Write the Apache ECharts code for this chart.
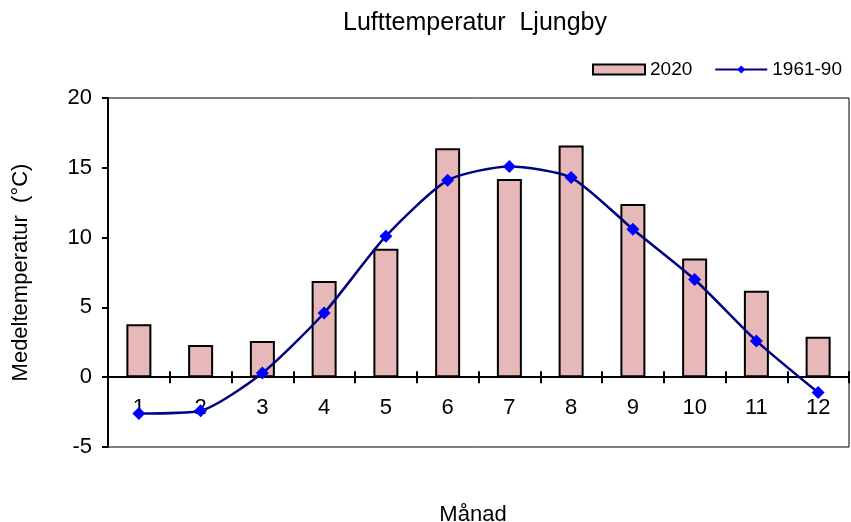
<!DOCTYPE html>
<html>
<head>
<meta charset="utf-8">
<script src="https://cdn.jsdelivr.net/npm/echarts@6/dist/echarts.min.js"></script>
<style>
  body { margin: 0; background: #fff; }
  #chart { width: 851px; height: 522px; }
</style>
</head>
<body>
<div id="chart"></div>
<script>
var months = ["1", "2", "3", "4", "5", "6", "7", "8", "9", "10", "11", "12"];
var temp2020 = [3.8, 2.3, 2.6, 6.9, 9.2, 16.4, 14.2, 16.6, 12.4, 8.5, 6.2, 2.9];
var normal6190 = [-2.6, -2.4, 0.3, 4.6, 10.1, 14.1, 15.1, 14.3, 10.6, 7.0, 2.6, -1.1];
var yMin = -5, yMax = 20, yStep = 5;

var font = "Liberation Sans, Arial, sans-serif";
var chart = echarts.init(document.getElementById("chart"));

// the month axis sits on the zero line, like in Excel
var gridTop = 98, gridBottom = 75;
var gridH = 522 - gridTop - gridBottom;
var zeroOffset = -gridH * (0 - yMin) / (yMax - yMin);

var option = {
  animation: false,
  textStyle: { fontFamily: font },
  title: [
    {
      text: "Lufttemperatur  Ljungby",
      left: 470,
      top: 6,
      textAlign: "center",
      textStyle: { fontSize: 25, fontWeight: "normal", color: "#000", fontFamily: font }
    },
    {
      text: "Månad",
      left: 468,
      top: 499,
      textAlign: "center",
      textStyle: { fontSize: 22, fontWeight: "normal", color: "#000", fontFamily: font }
    }
  ],
  legend: {
    right: 4,
    top: 55,
    itemGap: 22,
    textStyle: { fontSize: 19, color: "#000", fontFamily: font },
    data: [
      { name: "2020", icon: "rect", itemStyle: { borderColor: "#000", borderWidth: 2 } },
      { name: "1961-90" }
    ],
    itemWidth: 52,
    itemHeight: 10
  },
  grid: {
    left: 108,
    right: 2,
    top: gridTop,
    bottom: gridBottom,
    outerBoundsMode: "none",
    show: true,
    borderColor: "#000",
    borderWidth: 1
  },
  xAxis: [
    {
      type: "category",
      data: months,
      position: "bottom",
      offset: zeroOffset,
      axisLine: { onZero: false, lineStyle: { color: "#000", width: 2 } },
      axisTick: { show: true, length: 6, lineStyle: { color: "#000", width: 2 } },
      axisLabel: { fontSize: 22, color: "#000", margin: 20 }
    },
    {
      type: "category",
      data: months,
      position: "bottom",
      offset: zeroOffset,
      axisLine: { show: false, onZero: false },
      axisTick: { show: true, inside: true, length: 6, lineStyle: { color: "#000", width: 2 } },
      axisLabel: { show: false }
    }
  ],
  yAxis: {
    type: "value",
    min: yMin,
    max: yMax,
    interval: yStep,
    name: "Medeltemperatur  (°C)",
    nameLocation: "middle",
    nameGap: 76,
    nameTextStyle: { fontSize: 22, color: "#000" },
    axisLine: { show: true, lineStyle: { color: "#000", width: 2 } },
    axisTick: { show: true, length: 6, lineStyle: { color: "#000", width: 2 } },
    axisLabel: { fontSize: 22, color: "#000", margin: 16 },
    splitLine: { show: false }
  },
  series: [
    {
      name: "2020",
      type: "bar",
      data: temp2020,
      barWidth: 25,
      itemStyle: { color: "#E6B8B7", borderColor: "#000", borderWidth: 2 },
      z: 2
    },
    {
      name: "1961-90",
      type: "line",
      data: normal6190,
      smooth: 0.22,
      symbol: "diamond",
      symbolSize: 13,
      lineStyle: { color: "#000080", width: 2.5 },
      itemStyle: { color: "#0000FF" },
      z: 3
    }
  ]
};

chart.setOption(option);
</script>
</body>
</html>
